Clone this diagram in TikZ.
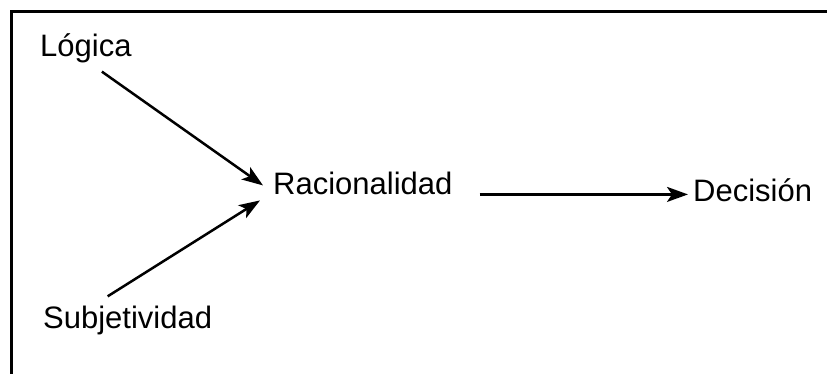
\documentclass[tikz,border=0pt]{standalone}
\usepackage{fontspec}
\setmainfont{Liberation Sans}
\usetikzlibrary{arrows.meta}

\tikzset{
    lbl/.style={inner sep=0pt, anchor=base west, font=\fontsize{31pt}{36pt}\selectfont},
    arr/.style={-{Stealth[length=21pt, width=15pt, inset=5pt]}, line width=2.5pt},
}

\begin{document}
\begin{tikzpicture}[x=1pt, y=-1pt]
    \useasboundingbox (0,0) rectangle (827,374);

    % Frame (only left and top edges visible)
    \draw[line width=3pt] (11,374) |- (827,12);

    % Inputs
    \node[lbl] (logica) at (40,57) {Lógica};
    \node[lbl] (subjet) at (43,328) {Subjetividad};

    % Middle and output
    \node[lbl] (racional) at (273,195) {Racionalidad};
    \node[lbl] (decision) at (693,202) {Decisión};

    % Arrows
    \draw[arr] ([xshift=16pt, yshift=-8pt]logica.south) -- ([xshift=-10pt, yshift=-1.5pt]racional.west);
    \draw[arr] ([xshift=-20pt, yshift=9pt]subjet.north) -- ([xshift=-13pt, yshift=-16.5pt]racional.west);
    \coordinate (hstart) at ([xshift=27pt, yshift=-10.5pt]racional.east);
    \draw[arr, shorten >=5pt] (hstart) -- (hstart -| decision.west);
\end{tikzpicture}
\end{document}
